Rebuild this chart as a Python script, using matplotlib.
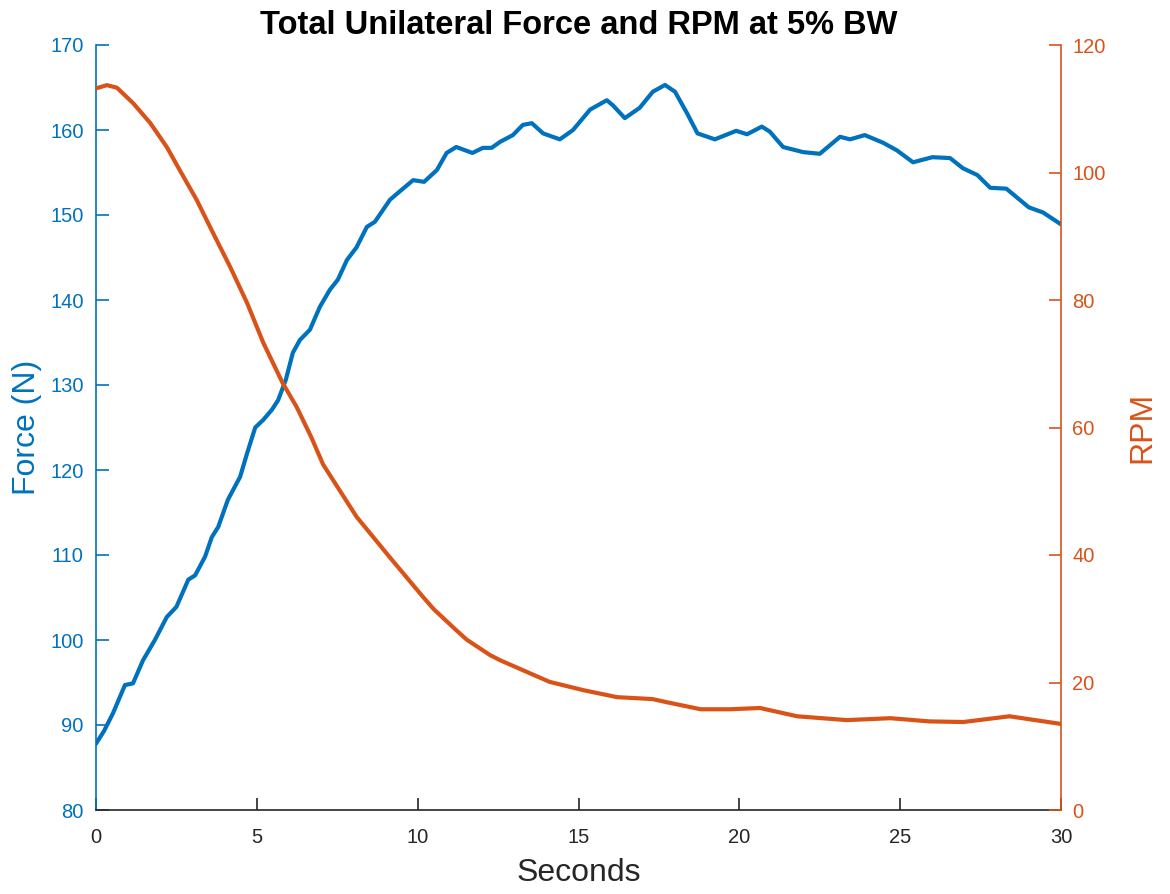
import matplotlib
matplotlib.use("Agg")
import matplotlib.pyplot as plt

plt.rcParams['font.family'] = ['Liberation Sans', 'DejaVu Sans']

# ---- data ----
force_t = [0.0, 0.25, 0.53, 0.9, 1.15, 1.46, 1.83, 2.2, 2.5, 2.87, 3.08, 3.39, 3.6, 3.8,
           4.1, 4.48, 4.7, 4.95, 5.2, 5.47, 5.66, 5.9, 6.12, 6.34, 6.65, 6.96, 7.27, 7.52,
           7.8, 8.1, 8.42, 8.67, 9.14, 9.45, 9.86, 10.2, 10.6, 10.9, 11.2, 11.7, 12.03, 12.3,
           12.56, 12.96, 13.27, 13.55, 13.9, 14.42, 14.83, 15.36, 15.88, 16.07, 16.44, 16.9,
           17.31, 17.69, 18.0, 18.37, 18.7, 19.24, 19.9, 20.24, 20.7, 20.95, 21.36, 21.98,
           22.5, 23.13, 23.44, 23.9, 24.47, 24.9, 25.4, 26.0, 26.55, 26.95, 27.4, 27.8,
           28.3, 29.0, 29.44, 30.0]
force_n = [87.8, 89.3, 91.4, 94.7, 94.9, 97.6, 100.0, 102.7, 103.9, 107.1, 107.6, 109.8, 112.1, 113.3,
           116.5, 119.2, 122.0, 125.0, 125.9, 127.1, 128.2, 130.6, 133.8, 135.3, 136.5, 139.2, 141.2, 142.4,
           144.7, 146.2, 148.6, 149.2, 151.8, 152.8, 154.1, 153.9, 155.3, 157.3, 158.0, 157.3, 157.9, 157.9,
           158.6, 159.4, 160.6, 160.8, 159.6, 158.9, 160.0, 162.4, 163.5, 162.9, 161.4, 162.6,
           164.5, 165.3, 164.5, 162.0, 159.6, 158.9, 159.9, 159.5, 160.4, 159.8, 158.0, 157.4,
           157.2, 159.2, 158.9, 159.4, 158.5, 157.6, 156.2, 156.8, 156.7, 155.5, 154.7, 153.2,
           153.1, 150.9, 150.3, 148.9]

rpm_t = [0.0, 0.34, 0.65, 1.15, 1.68, 2.2, 2.6, 3.13, 3.64, 4.17, 4.7, 5.2, 5.8, 6.24, 6.7,
         7.06, 8.1, 9.14, 10.17, 10.5, 11.2, 11.53, 12.25, 12.56, 14.1, 15.15, 16.2, 17.3,
         17.75, 18.8, 19.7, 20.64, 21.8, 23.34, 24.7, 25.9, 26.96, 28.4, 30.0]
rpm_v = [113.2, 113.7, 113.3, 110.9, 107.8, 104.0, 100.4, 95.7, 90.5, 85.2, 79.5, 73.3, 67.0, 63.2, 58.4,
         54.2, 46.0, 39.6, 33.4, 31.5, 28.2, 26.7, 24.3, 23.5, 20.1, 18.8, 17.7, 17.4,
         16.9, 15.8, 15.8, 16.0, 14.7, 14.1, 14.4, 13.9, 13.8, 14.7, 13.5]

x_ticks = [0, 5, 10, 15, 20, 25, 30]
force_ticks = [80, 90, 100, 110, 120, 130, 140, 150, 160, 170]
rpm_ticks = [0, 20, 40, 60, 80, 100, 120]

BLUE = '#0072BD'
ORANGE = '#D95319'
DARK = '#262626'

fig = plt.figure(figsize=(11.70, 8.94), dpi=100)
ax = fig.add_axes([96/1170, 84/894, (1061-96)/1170, (810-45)/894])
ax2 = ax.twinx()

ax.plot(force_t, force_n, color=BLUE, lw=3.0, solid_joinstyle='round', solid_capstyle='round', zorder=3)
ax2.plot(rpm_t, rpm_v, color=ORANGE, lw=3.0, solid_joinstyle='round', solid_capstyle='round', zorder=3)

ax.set_xlim(0, 30)
ax.set_ylim(80, 170)
ax2.set_ylim(0, 120)
ax.set_xticks(x_ticks)
ax.set_yticks(force_ticks)
ax2.set_yticks(rpm_ticks)

for a in (ax, ax2):
    a.spines['top'].set_visible(False)
ax2.spines['bottom'].set_visible(False)
ax2.spines['left'].set_visible(False)
ax.spines['right'].set_visible(False)
ax.spines['left'].set_color(BLUE)
ax2.spines['right'].set_color(ORANGE)
ax.spines['bottom'].set_color(DARK)
for sp in ('left', 'bottom'):
    ax.spines[sp].set_linewidth(1.2)
ax2.spines['right'].set_linewidth(1.2)

ax.tick_params(axis='x', direction='in', length=9, width=1.2, colors=DARK, labelsize=14.5, pad=13)
ax.tick_params(axis='y', direction='in', length=9, width=1.2, colors=BLUE, labelsize=14.5, pad=9)
ax2.tick_params(axis='y', direction='in', length=9, width=1.2, colors=ORANGE, labelsize=14.5, pad=8)

ax.set_xlabel('Seconds', fontsize=23, color=DARK, labelpad=8)
ax.set_ylabel('Force (N)', fontsize=23, color=BLUE, labelpad=6)
ax2.set_ylabel('RPM', fontsize=23, color=ORANGE, labelpad=16)
ax.set_title('Total Unilateral Force and RPM at 5% BW', fontsize=23.5, fontweight='bold', color='black', pad=8)

fig.savefig('out.png', dpi=100)
